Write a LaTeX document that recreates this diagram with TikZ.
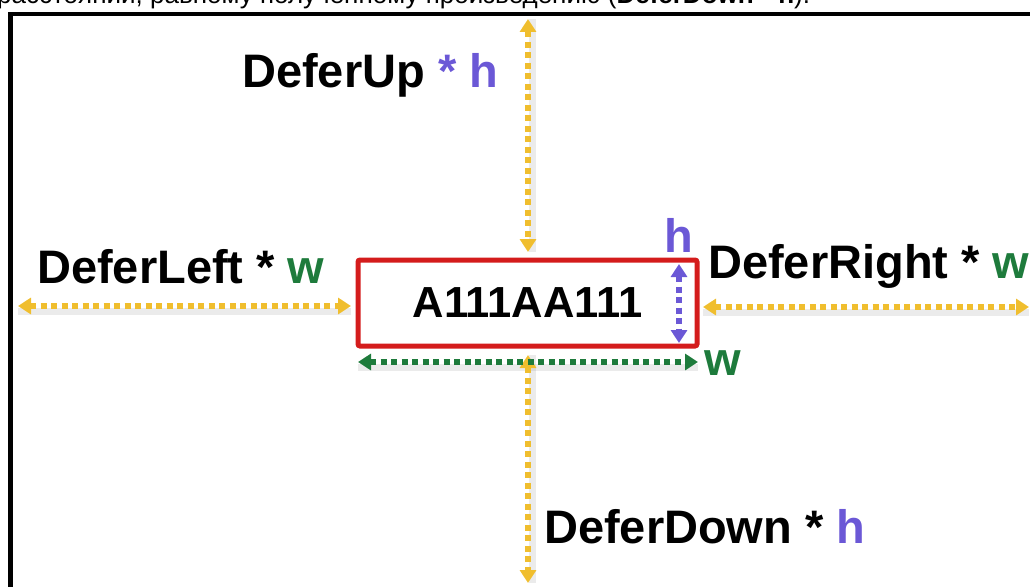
\documentclass[tikz,border=0pt]{standalone}
\usepackage{fontspec}
\usepackage{graphicx}
\setmainfont{Liberation Sans}
\usetikzlibrary{arrows.meta}
\definecolor{ylw}{HTML}{F0BE2E}
\definecolor{grn}{HTML}{1E7B3C}
\definecolor{purp}{HTML}{6B58D6}
\definecolor{rd}{HTML}{D41C1C}
\tikzset{
  lbl/.style={inner sep=0pt, anchor=base west, font=\bfseries\fontsize{47}{47}\selectfont},
  dimarrow/.style={line width=5.5pt, dash pattern=on 6pt off 4.5pt,
     {Triangle[width=16pt,length=13pt]}-{Triangle[width=16pt,length=13pt]}},
  shade/.style={line width=7pt, black, opacity=0.08}
}
\begin{document}
\begin{tikzpicture}[x=1pt,y=-1pt]
\useasboundingbox (0,0) rectangle (1030,586);
\clip (0,0) rectangle (1030,586);
% partially visible caption line
\node[inner sep=0pt, anchor=base west, font=\fontsize{26}{26}\selectfont] (cap) at (-3,4)
  {расстоянии, равному полученному произведению (\textbf{DeferDown * h}).};
% frame
\draw[line width=4.5pt] (1040,14) -- (10.5,14) -- (10.5,600);
% plate
\node[draw=rd, line width=5pt, rounded corners=2pt, minimum width=339pt, minimum height=86pt,
  inner sep=0pt, font=\bfseries\fontsize{43.5}{43.5}\selectfont] (plate) at (527.5,303) {A111AA111};
% arrow endpoints
\coordinate (uptop) at (528,19);
\coordinate (upbot) at (528,252);
\coordinate (dntop) at (528,355);
\coordinate (dnbot) at (528,583);
\coordinate (lfl) at (18,306);
\coordinate (lfr) at (351,306);
\coordinate (rtl) at (703,307);
\coordinate (rtr) at (1029,307);
\coordinate (ht) at (679,264);
\coordinate (hb) at (679,343);
\coordinate (wl) at (358,362);
\coordinate (wr) at (698,362);
% shadows
\foreach \a/\b/\dx/\dy in {uptop/upbot/4/0,dntop/dnbot/4/0,lfl/lfr/0/5,rtl/rtr/0/5,wl/wr/0/5}{
  \draw[shade] ([shift={(\dx,\dy)}]\a) -- ([shift={(\dx,\dy)}]\b);
}
% arrows
\draw[dimarrow, ylw] (uptop) -- (upbot);
\draw[dimarrow, ylw] (dntop) -- (dnbot);
\draw[dimarrow, ylw] (lfl) -- (lfr);
\draw[dimarrow, ylw] (rtl) -- (rtr);
\draw[dimarrow, purp] (ht) -- (hb);
\draw[dimarrow, grn] (wl) -- (wr);
% labels
\node[lbl] (up) at (242,87) {DeferUp {\color{purp}* h}};
\node[lbl] (left) at (37,283) {DeferLeft * {\color{grn}w}};
\node[lbl] (right) at (708,278) {DeferRight * {\color{grn}w}};
\node[lbl] (down) at (544,543) {DeferDown * {\color{purp}h}};
\node[lbl, anchor=base, text=purp] (hl) at (679,252) {h};
\node[lbl, anchor=base, text=grn] (wlbl) at (723,375) {w};
\end{tikzpicture}
\end{document}
